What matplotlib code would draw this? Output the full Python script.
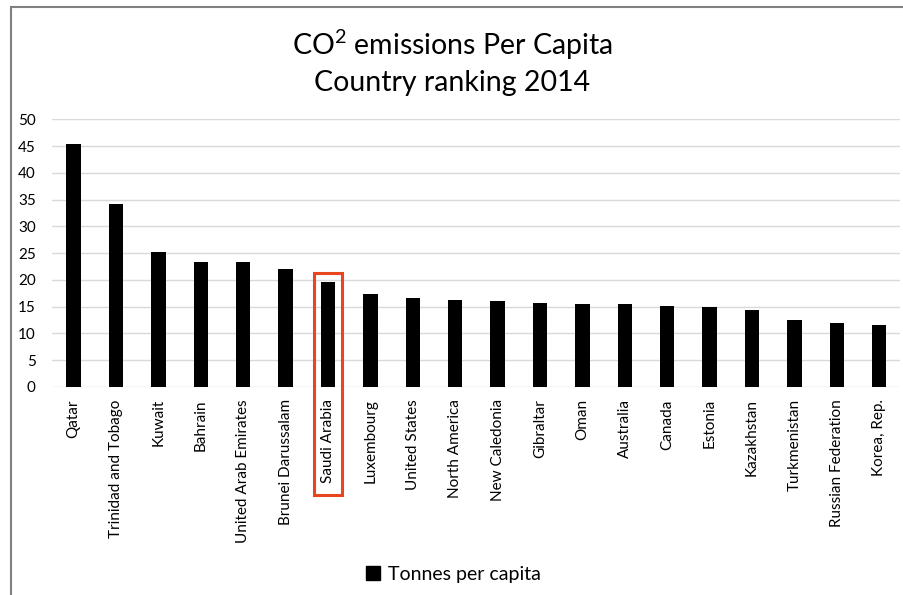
import matplotlib
matplotlib.use("Agg")
import matplotlib.pyplot as plt
from matplotlib.patches import Rectangle
from matplotlib.lines import Line2D

plt.rcParams['font.family'] = ['Lato', 'DejaVu Sans']
plt.rcParams['mathtext.fontset'] = 'custom'
plt.rcParams['mathtext.rm'] = 'Lato'

countries = ["Qatar", "Trinidad and Tobago", "Kuwait", "Bahrain", "United Arab Emirates",
             "Brunei Darussalam", "Saudi Arabia", "Luxembourg", "United States",
             "North America", "New Caledonia", "Gibraltar", "Oman", "Australia",
             "Canada", "Estonia", "Kazakhstan", "Turkmenistan", "Russian Federation",
             "Korea, Rep."]
tonnes = [45.4, 34.2, 25.2, 23.4, 23.3, 22.1, 19.5, 17.4, 16.5, 16.3,
          16.0, 15.6, 15.5, 15.4, 15.1, 14.9, 14.4, 12.5, 11.9, 11.6]
yticks = [0, 5, 10, 15, 20, 25, 30, 35, 40, 45, 50]
highlight = "Saudi Arabia"

fig = plt.figure(figsize=(9.04, 5.95), dpi=100)
ax = fig.add_axes([0.058, 0.350, 0.938, 0.4495])

x = list(range(len(countries)))
ax.bar(x, tonnes, width=0.34, color='black', zorder=3)
ax.set_xlim(-0.5, len(countries) - 0.5)
ax.set_ylim(0, 50)
ax.set_yticks(yticks)
ax.set_xticks(x)
ax.set_xticklabels(countries, rotation=90, fontsize=11)
ax.tick_params(axis='y', length=0, pad=12, labelsize=11)
ax.tick_params(axis='x', length=0, pad=9)
ax.grid(axis='y', color='#d9d9d9', lw=1, zorder=0)
for s in ax.spines.values():
    s.set_visible(False)

# outline the highlighted country with its label
i = countries.index(highlight)
ax.add_patch(Rectangle((i - 0.33, -20.2), 0.66, 41.4, fill=False,
                       edgecolor='#e8461e', lw=2.2, clip_on=False, zorder=4))

fig.text(0.5, 0.925, r"CO$^\mathrm{2}$ emissions Per Capita", ha='center', va='center', fontsize=20.5)
fig.text(0.5, 0.861, "Country ranking 2014", ha='center', va='center', fontsize=20.5)

handle = Line2D([], [], marker='s', ls='none', color='black', markersize=10)
fig.legend([handle], ["Tonnes per capita"], loc='center', bbox_to_anchor=(0.5, 0.034),
           frameon=False, fontsize=14, handletextpad=0.3, handlelength=1)

# chart frame
fig.add_artist(Rectangle((10.5 / 904, -0.1), 1.0, 0.1 + 1 - 7.5 / 595, fill=False,
                         edgecolor='#808080', lw=1.5, transform=fig.transFigure))

fig.savefig("out.png", dpi=100)
